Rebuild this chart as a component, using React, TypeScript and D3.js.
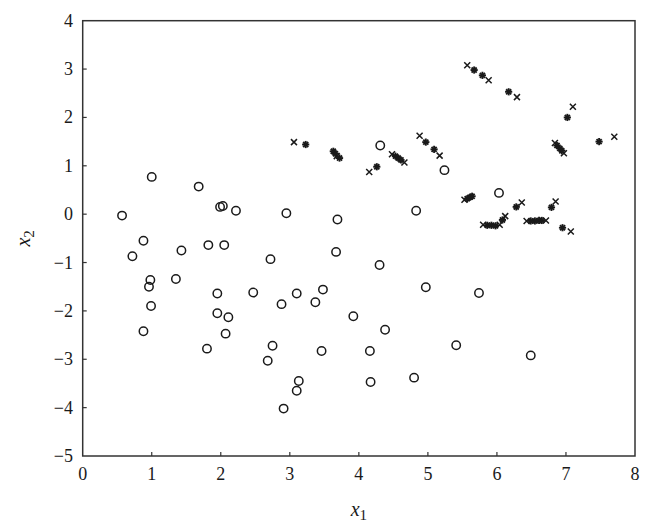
import React from 'react'
import * as d3 from 'd3'

// class 1: open circles [x1, x2]
const circles: [number, number][] = [
  [0.57, -0.03], [1.0, 0.77], [0.88, -0.55], [0.72, -0.87], [1.68, 0.57],
  [1.99, 0.15], [2.03, 0.17], [2.22, 0.07], [1.43, -0.75], [1.82, -0.64],
  [2.05, -0.64], [2.95, 0.02], [3.69, -0.11], [3.67, -0.78], [2.72, -0.93],
  [0.98, -1.36], [0.96, -1.5], [1.35, -1.34], [0.99, -1.9], [0.88, -2.42],
  [1.95, -1.64], [2.47, -1.62], [3.1, -1.64], [3.48, -1.56], [2.88, -1.86],
  [3.37, -1.82], [1.95, -2.05], [2.11, -2.13], [2.07, -2.47], [3.92, -2.11],
  [1.8, -2.78], [2.75, -2.72], [2.68, -3.03], [3.46, -2.83], [3.13, -3.45],
  [3.1, -3.65], [2.91, -4.02], [4.3, -1.05], [4.97, -1.51], [5.74, -1.63],
  [4.38, -2.39], [4.16, -2.83], [5.41, -2.71], [6.49, -2.92], [4.17, -3.47],
  [4.8, -3.38], [4.31, 1.42], [5.24, 0.91], [4.83, 0.07], [6.03, 0.44],
]

// class 2: asterisks
const stars: [number, number][] = [
  [3.23, 1.44], [3.63, 1.3], [3.66, 1.25], [3.72, 1.16],
  [5.67, 2.98], [5.79, 2.87], [6.17, 2.53], [7.02, 2.0], [7.48, 1.5],
  [6.87, 1.42], [6.91, 1.36], [6.94, 1.31],
  [4.97, 1.49], [5.09, 1.34],
  [4.53, 1.2], [4.57, 1.16], [4.61, 1.12], [4.26, 0.98],
  [5.57, 0.32], [5.61, 0.35], [5.64, 0.37],
  [5.86, -0.23], [5.92, -0.23], [5.98, -0.24],
  [6.08, -0.12], [6.28, 0.15],
  [6.49, -0.14], [6.55, -0.14], [6.61, -0.13], [6.65, -0.13],
  [6.79, 0.14], [6.95, -0.28],
]

// class 2: crosses
const crosses: [number, number][] = [
  [3.06, 1.49], [3.68, 1.2], [5.57, 3.08], [5.88, 2.77], [6.29, 2.42],
  [7.1, 2.22], [7.7, 1.6], [6.84, 1.47], [6.97, 1.26], [4.88, 1.62],
  [5.17, 1.21], [4.48, 1.24], [4.66, 1.07], [4.15, 0.87], [5.53, 0.3],
  [5.8, -0.22], [6.04, -0.22], [6.12, -0.04], [6.36, 0.24], [6.43, -0.14],
  [6.71, -0.13], [6.85, 0.26], [7.07, -0.36],
]

const xTicks = [0, 1, 2, 3, 4, 5, 6, 7, 8]
const yTicks = [4, 3, 2, 1, 0, -1, -2, -3, -4, -5]

const W = 653
const H = 532
const left = 82.7
const right = 635
const top = 20.7
const bottom = 456

const ink = '#1a1a1a'
const font = '"Liberation Serif", "DejaVu Serif", serif'

function fmt(v: number) {
  return v < 0 ? '\u2212' + Math.abs(v) : String(v)
}

export default function App() {
  const x = d3.scaleLinear().domain([0, 8]).range([left, right])
  const y = d3.scaleLinear().domain([-5, 4]).range([bottom, top])

  const star = (cx: number, cy: number, i: number) => {
    const r = 3.6
    return (
      <g key={'s' + i} stroke={ink} strokeWidth={1.9}>
        {[0, 45, 90, 135].map(a => {
          const t = (a * Math.PI) / 180
          return (
            <line key={a}
              x1={cx - r * Math.cos(t)} y1={cy - r * Math.sin(t)}
              x2={cx + r * Math.cos(t)} y2={cy + r * Math.sin(t)} />
          )
        })}
      </g>
    )
  }

  const cross = (cx: number, cy: number, i: number) => {
    const r = 3
    const p = d3.path()
    p.moveTo(cx - r, cy - r); p.lineTo(cx + r, cy + r)
    p.moveTo(cx - r, cy + r); p.lineTo(cx + r, cy - r)
    return <path key={'c' + i} d={p.toString()} stroke={ink} strokeWidth={1.5} fill="none" />
  }

  return (
    <svg width={W} height={H} style={{ position: 'absolute', left: 0, top: 0, background: '#fff' }}
      fontFamily={font}>
      <rect x={left} y={top} width={right - left} height={bottom - top}
        fill="none" stroke="#333" strokeWidth={1.5} />

      {xTicks.map(t => (
        <g key={'xt' + t}>
          {t > 0 && t < 8 && <line x1={x(t)} x2={x(t)} y1={bottom} y2={bottom - 4} stroke="#333" strokeWidth={1.2} />}
          <text x={x(t)} y={480} textAnchor="middle" fontSize={18} fill={ink}>{fmt(t)}</text>
        </g>
      ))}

      {yTicks.map(t => (
        <g key={'yt' + t}>
          {t > -5 && t < 4 && <line x1={left} x2={left + 4} y1={y(t)} y2={y(t)} stroke="#333" strokeWidth={1.2} />}
          <text x={73} y={y(t) + 6} textAnchor="end" fontSize={18} fill={ink}>{fmt(t)}</text>
        </g>
      ))}

      <text x={(left + right) / 2} y={516} textAnchor="middle" fontSize={20} fill={ink}>
        <tspan fontStyle="italic">x</tspan>
        <tspan fontSize={15} dy={4}>1</tspan>
      </text>
      <text transform={`translate(30,${(y(0) + y(-1)) / 2}) rotate(-90)`} textAnchor="middle" fontSize={20} fill={ink}>
        <tspan fontStyle="italic">x</tspan>
        <tspan fontSize={15} dy={4}>2</tspan>
      </text>

      {circles.map((d, i) => (
        <circle key={'o' + i} cx={x(d[0])} cy={y(d[1])} r={4.2} fill="none" stroke={ink} strokeWidth={1.5} />
      ))}
      {crosses.map((d, i) => cross(x(d[0]), y(d[1]), i))}
      {stars.map((d, i) => star(x(d[0]), y(d[1]), i))}
    </svg>
  )
}
